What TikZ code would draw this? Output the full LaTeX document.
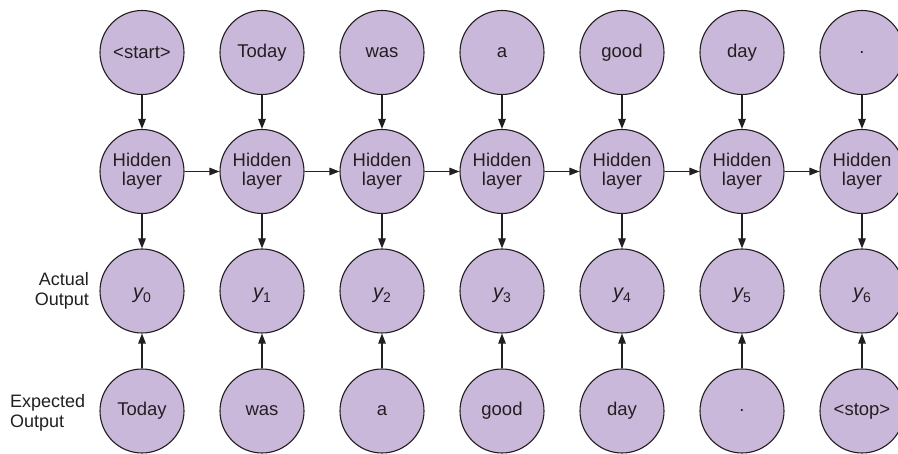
\documentclass[tikz,border=0pt]{standalone}
\usepackage{fontspec}
\setmainfont{Liberation Sans}
\usetikzlibrary{arrows.meta}
\definecolor{nodefill}{RGB}{202,184,218}
\definecolor{linecol}{RGB}{35,31,32}
\newcommand{\ysub}[1]{\raisebox{-8pt}[0pt][0pt]{{\fontsize{20}{20}\selectfont\itshape y}\raisebox{-4pt}{\fontsize{14}{14}\selectfont #1}}}
\begin{document}
\begin{tikzpicture}[x=1pt,y=-1pt,
  cell/.style={circle,draw=linecol,fill=nodefill,line width=1.1pt,minimum size=84pt,inner sep=0pt,font=\fontsize{18.5}{19}\selectfont,align=center,text=linecol},
  conn/.style={draw=linecol,line width=1.1pt,-{Triangle[length=10pt,width=7.5pt]}},
  lab/.style={font=\fontsize{18}{20}\selectfont,text=linecol,inner sep=0pt}]
\useasboundingbox (0,0) rectangle (898,454);
\clip (0,0) rectangle (898,454);
\foreach \i/\tw/\ow in {0/{<start>}/Today,1/Today/was,2/was/a,3/a/good,4/good/day,5/day/.,6/./{<stop>}}{
  \node[cell] (t\i) at (142+120*\i,52.5) {\tw};
  \node[cell] (h\i) at (142+120*\i,171.5) {Hidden\\layer};
  \node[cell] (y\i) at (142+120*\i,291) {\ysub{\i}};
  \node[cell] (e\i) at (142+120*\i,411) {\ow};
  \draw[conn] (t\i) -- (h\i);
  \draw[conn] (h\i) -- (y\i);
  \draw[conn] (e\i) -- (y\i);
}
\foreach \i [evaluate=\i as \j using int(\i+1)] in {0,...,5}{
  \draw[conn] (h\i) -- (h\j);
}
\node[lab,align=right,anchor=east] (la) at (89,291) {Actual\\Output};
\node[lab,align=left,anchor=west] (le) at (10,413) {Expected\\Output};
\end{tikzpicture}
\end{document}
